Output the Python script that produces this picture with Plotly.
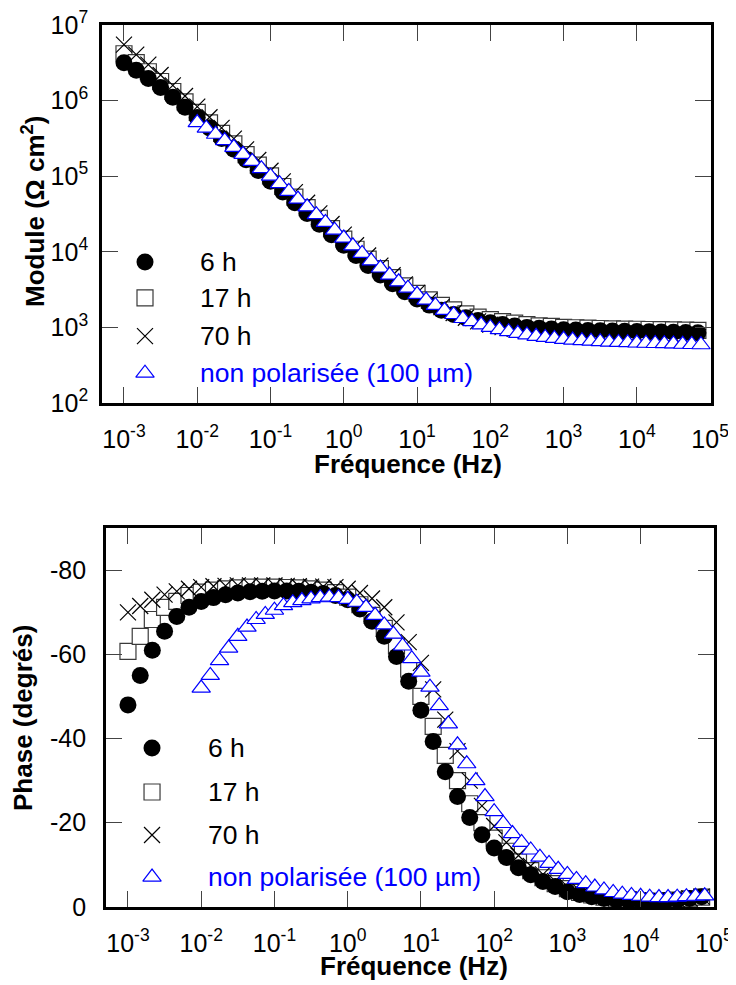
import plotly.graph_objects as go

# ---------------- data ----------------
freq_h = [0.001, 0.00147, 0.00215, 0.00316, 0.00464, 0.00681,
          0.01, 0.0147, 0.0215, 0.0316, 0.0464, 0.0681,
          0.1, 0.147, 0.215, 0.316, 0.464, 0.681,
          1, 1.47, 2.15, 3.16, 4.64, 6.81,
          10, 14.7, 21.5, 31.6, 46.4, 68.1,
          100, 147, 215, 316, 464, 681,
          1000, 1470, 2150, 3160, 4640, 6810,
          10000, 14700, 21500, 31600, 46400, 68100]

freq_np = [0.01, 0.0133, 0.0178, 0.0237, 0.0316, 0.0422, 0.0562, 0.075,
           0.1, 0.133, 0.178, 0.237, 0.316, 0.422, 0.562, 0.75,
           1, 1.33, 1.78, 2.37, 3.16, 4.22, 5.62, 7.5,
           10, 13.3, 17.8, 23.7, 31.6, 42.2, 56.2, 75,
           100, 133, 178, 237, 316, 422, 562, 750,
           1000, 1330, 1780, 2370, 3160, 4220, 5620, 7500,
           10000, 13300, 17800, 23700, 31600, 42200, 56200, 75000]

mod_6h = [3.16e6, 2.53e6, 1.96e6, 1.49e6, 1.11e6, 8.18e5, 5.98e5, 4.36e5, 3.16e5, 2.28e5,
          1.65e5, 1.19e5, 8.57e4, 6.18e4, 4.46e4, 3.21e4, 2.32e4, 1.68e4, 1.22e4, 8930,
          6590, 4950, 3780, 2960, 2380, 1970, 1690, 1480, 1340, 1230,
          1150, 1090, 1040, 1000, 973, 951, 933, 920, 910, 902,
          895, 889, 883, 875, 871, 865, 857, 849]
mod_17h = [4.17e6, 3.19e6, 2.41e6, 1.79e6, 1.32e6, 9.64e5, 7.01e5, 5.09e5, 3.69e5, 2.67e5,
           1.93e5, 1.40e5, 1.01e5, 7.31e4, 5.30e4, 3.84e4, 2.78e4, 2.02e4, 1.47e4, 1.08e4,
           7980, 5980, 4550, 3540, 2820, 2310, 1950, 1700, 1510, 1370,
           1270, 1190, 1140, 1090, 1050, 1030, 1000, 989, 975, 966,
           957, 951, 944, 938, 933, 927, 920, 912]
mod_70h = [5.50e6, 4.06e6, 2.99e6, 2.18e6, 1.59e6, 1.15e6, 8.34e5, 6.03e5, 4.36e5, 3.14e5,
           2.27e5, 1.64e5, 1.18e5, 8.53e4, 6.17e4, 4.46e4, 3.22e4, 2.33e4, 1.69e4, 1.22e4,
           8930, 6560, 4890, 3700, 2860, 2260, 1850, 1550, 1340, 1200,
           1090, 1010, 957, 912, 879, 853, 834, 818, 807, 798,
           789, 783, 778, 773, 767, 762, 757, 750]
mod_np = [5.13e5, 4.32e5, 3.59e5, 2.96e5, 2.41e5, 1.95e5, 1.57e5, 1.26e5, 1.00e5, 7.96e4,
          6.30e4, 4.99e4, 3.94e4, 3.10e4, 2.45e4, 1.93e4, 1.52e4, 1.20e4, 9530, 7590,
          6100, 4920, 4010, 3300, 2740, 2300, 1950, 1680, 1480, 1310,
          1190, 1080, 1000, 931, 879, 834, 794, 762, 736, 714,
          695, 679, 667, 656, 646, 638, 632, 627, 621, 617,
          612, 608, 604, 598, 594, 589]

ph_6h = [-48, -55, -61, -65.5, -69, -71.2, -72.6, -73.5, -74.2, -74.6,
         -74.9, -75.0, -75.1, -75.1, -75.0, -74.8, -74.5, -74.0, -73.0, -70.8,
         -67.9, -64.3, -59.5, -53.6, -46.7, -39.3, -32.1, -26.2, -21.2, -17.1,
         -14.0, -11.7, -9.3, -7.6, -6.0, -4.8, -3.6, -2.9, -2.4, -2.0,
         -1.7, -1.5, -1.4, -1.4, -1.5, -1.7, -2.0, -2.4]
ph_17h = [-60.7, -64.3, -68.3, -71.2, -72.6, -74.0, -74.8, -75.3, -75.6, -75.8,
          -76.0, -76.0, -76.0, -75.9, -75.8, -75.6, -75.3, -74.7, -73.6, -71.8,
          -69.3, -66.2, -62.0, -56.5, -50.0, -42.9, -36.0, -30.0, -24.5, -20.0,
          -16.3, -13.2, -10.7, -8.6, -6.9, -5.5, -4.3, -3.4, -2.8, -2.3,
          -1.9, -1.6, -1.4, -1.3, -1.4, -1.6, -1.9, -2.3]
ph_70h = [-70.0, -71.5, -73.0, -74.2, -75.0, -75.6, -76.0, -76.2, -76.3, -76.4,
          -76.4, -76.4, -76.4, -76.3, -76.2, -76.1, -76.1, -76.0, -75.6, -74.6,
          -73.3, -71.2, -67.6, -62.9, -58.0, -51.7, -44.5, -37.0, -30.0, -24.0,
          -19.2, -15.3, -12.2, -9.7, -7.7, -6.1, -4.8, -3.8, -3.1, -2.5,
          -2.1, -1.8, -1.6, -1.5, -1.5, -1.7, -2.0, -2.4]
ph_np = [-52, -55, -58.5, -61.5, -64.3, -66.5, -68.3, -69.5, -70.5, -71.6,
         -72.3, -72.8, -73.2, -73.5, -73.6, -73.5, -73.1, -72.4, -71.2, -69.3,
         -67.0, -64.8, -62.0, -59.0, -55.8, -52.2, -47.8, -43.5, -38.5, -34.0,
         -30.0, -26.2, -22.6, -19.8, -17.4, -15.3, -13.5, -11.8, -10.3, -8.9,
         -7.7, -6.5, -5.5, -4.7, -4.0, -3.4, -3.0, -2.7, -2.5, -2.3,
         -2.2, -2.2, -2.3, -2.4, -2.5, -2.6]

series_names = ["6 h", "17 h", "70 h", "non polarisée (100 µm)"]

freq_tickvals = [1e-3, 1e-2, 1e-1, 1e0, 1e1, 1e2, 1e3, 1e4, 1e5]
freq_ticktext = ["10<sup>-3</sup>", "10<sup>-2</sup>", "10<sup>-1</sup>", "10<sup>0</sup>",
                 "10<sup>1</sup>", "10<sup>2</sup>", "10<sup>3</sup>", "10<sup>4</sup>",
                 "10<sup>5</sup>"]
mod_tickvals = [1e2, 1e3, 1e4, 1e5, 1e6, 1e7]
mod_ticktext = ["10<sup>2</sup>", "10<sup>3</sup>", "10<sup>4</sup>", "10<sup>5</sup>",
                "10<sup>6</sup>", "10<sup>7</sup>"]
phase_tickvals = [-80, -60, -40, -20, 0]
phase_ticktext = ["-80", "-60", "-40", "-20", "0"]

# ---------------- layout helpers ----------------
# the page body has an 8 px margin: figure origin sits at (8, 8) in the window
OFF = 8
W, H = 736 - OFF, 985 - OFF


def px(xp):
    return (xp - OFF) / W


def py(yp):
    return 1 - (yp - OFF) / H


FONT = "Liberation Sans, Arial, sans-serif"
BLUE = "#0000ff"
marker_styles = [
    dict(symbol="circle", size=17, color="black", line=dict(width=0)),
    dict(symbol="square", size=16, color="white", line=dict(color="#3a3a3a", width=1.2)),
    dict(symbol="x-thin", size=16, color="black", line=dict(color="black", width=1.2)),
    dict(symbol="triangle-up", size=16, color="white", line=dict(color=BLUE, width=1.2)),
]
text_colors = ["black", "black", "black", BLUE]
draw_order = [1, 2, 0, 3]  # squares, crosses, circles, triangles

fig = go.Figure()

mod_series = [(freq_h, mod_6h), (freq_h, mod_17h), (freq_h, mod_70h), (freq_np, mod_np)]
ph_series = [(freq_h, ph_6h), (freq_h, ph_17h), (freq_h, ph_70h), (freq_np, ph_np)]

for i in draw_order:
    fx, fy = mod_series[i]
    fig.add_trace(go.Scatter(x=fx, y=fy, mode="markers", name=series_names[i],
                             marker=marker_styles[i], xaxis="x", yaxis="y", showlegend=False))
for i in draw_order:
    fx, fy = ph_series[i]
    fig.add_trace(go.Scatter(x=fx, y=fy, mode="markers", name=series_names[i],
                             marker=marker_styles[i], xaxis="x2", yaxis="y2", showlegend=False))

# in-plot legends (markers on overlay axes spanning the plot area 0..1)
leg_top_y = [0.373, 0.278, 0.177, 0.079]
leg_bot_y = [0.4195, 0.3034, 0.190, 0.079]
for i in range(4):
    fig.add_trace(go.Scatter(x=[0.0706], y=[leg_top_y[i]], mode="markers",
                             marker=marker_styles[i], xaxis="x3", yaxis="y3",
                             showlegend=False, hoverinfo="skip"))
    fig.add_trace(go.Scatter(x=[0.0757], y=[leg_bot_y[i]], mode="markers",
                             marker=marker_styles[i], xaxis="x4", yaxis="y4",
                             showlegend=False, hoverinfo="skip"))

annotations = []
for i in range(4):
    annotations.append(dict(text=series_names[i], xref="x domain", yref="y domain",
                            x=0.158, y=leg_top_y[i], xanchor="left", yanchor="middle",
                            showarrow=False, font=dict(family=FONT, size=26.5, color=text_colors[i])))
    annotations.append(dict(text=series_names[i], xref="x2 domain", yref="y2 domain",
                            x=0.165, y=leg_bot_y[i], xanchor="left", yanchor="middle",
                            showarrow=False, font=dict(family=FONT, size=26.5, color=text_colors[i])))

# axis titles
title_font = dict(family=FONT, size=26, color="black")
annotations += [
    dict(text="<b>Fréquence (Hz)</b>", xref="paper", yref="paper", x=px(408), y=py(464),
         xanchor="center", yanchor="middle", showarrow=False, font=title_font),
    dict(text="<b>Fréquence (Hz)</b>", xref="paper", yref="paper", x=px(414), y=py(966),
         xanchor="center", yanchor="middle", showarrow=False, font=title_font),
    dict(text="<b>Module (Ω cm<sup>2</sup>)</b>", xref="paper", yref="paper", x=px(33),
         y=py(212), xanchor="center", yanchor="middle", textangle=-90,
         showarrow=False, font=title_font),
    dict(text="<b>Phase (degrés)</b>", xref="paper", yref="paper", x=px(23),
         y=py(718), xanchor="center", yanchor="middle", textangle=-90,
         showarrow=False, font=title_font),
]

tick_font = dict(family=FONT, size=25, color="black")
common = dict(showline=True, linecolor="black", linewidth=2.7, mirror="ticks",
              ticks="inside", ticklen=16, tickwidth=1, tickcolor="#444",
              showgrid=False, zeroline=False, tickfont=tick_font, automargin=False,
              ticklabeloverflow="allow")

fig.update_layout(
    width=W, height=H, autosize=False,
    margin=dict(l=0, r=0, t=0, b=0, autoexpand=False),
    paper_bgcolor="white", plot_bgcolor="white",
    showlegend=False,
    xaxis=dict(type="log", range=[-3.3, 5.012], domain=[px(102), px(711)], anchor="y",
               tickvals=freq_tickvals, ticktext=freq_ticktext, ticklabelstandoff=12, **common),
    yaxis=dict(type="log", range=[1.9995, 7.0005], domain=[py(403), py(25)], anchor="x",
               tickvals=mod_tickvals, ticktext=mod_ticktext, ticklabelstandoff=6, **common),
    xaxis2=dict(type="log", range=[-3.3, 5.002], domain=[px(106), px(714)], anchor="y2",
                tickvals=freq_tickvals, ticktext=freq_ticktext, ticklabelstandoff=12, **common),
    yaxis2=dict(range=[0.05, -90.05], domain=[py(907), py(528)], anchor="x2",
                tickvals=phase_tickvals, ticktext=phase_ticktext, ticklabelstandoff=12, **common),
    xaxis3=dict(overlaying="x", range=[0, 1], visible=False),
    yaxis3=dict(overlaying="y", range=[0, 1], visible=False),
    xaxis4=dict(overlaying="x2", range=[0, 1], visible=False),
    yaxis4=dict(overlaying="y2", range=[0, 1], visible=False),
    annotations=annotations,
)

fig.write_html("out.html")
